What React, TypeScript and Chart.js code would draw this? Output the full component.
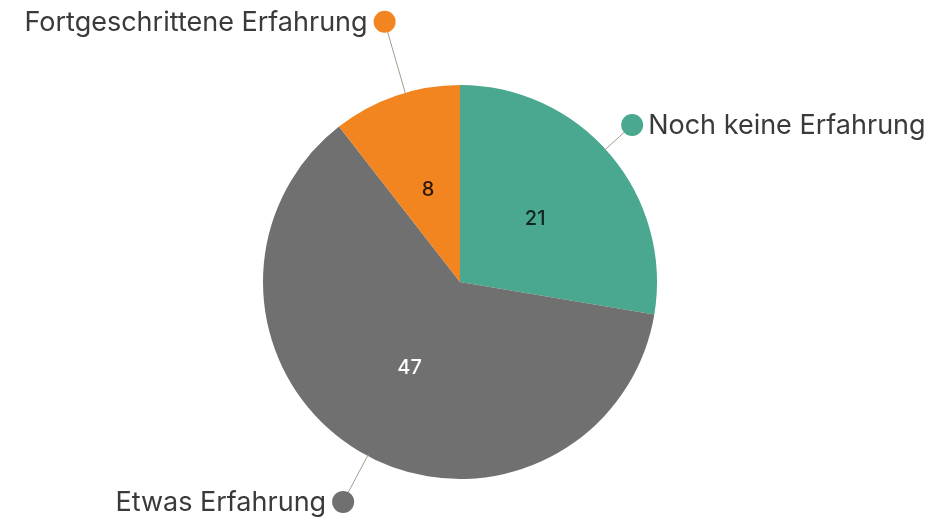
import React, { useEffect, useRef } from "react";
import { Chart, registerables } from "chart.js";

Chart.register(...registerables);

const categories = ["Noch keine Erfahrung", "Etwas Erfahrung", "Fortgeschrittene Erfahrung"];
const values = [21, 47, 8];
const colors = ["#49a88f", "#707070", "#f2851f"];
const valueLabelColors = ["#10261f", "#ffffff", "#2a1608"];
const leaderLengths = [36, 52, 74];
const leaderAngleShifts = [-2.1, -2.8, 2.8];
const labelSides = ["right", "left", "left"];

const calloutPlugin = {
  id: "callouts",
  afterDatasetsDraw(chart: any) {
    const ctx = chart.ctx;
    const meta = chart.getDatasetMeta(0);
    meta.data.forEach((arc: any, i: number) => {
      const { x, y, startAngle, endAngle, outerRadius } = arc.getProps(
        ["x", "y", "startAngle", "endAngle", "outerRadius"],
        true
      );
      const mid = (startAngle + endAngle) / 2 + (leaderAngleShifts[i] * Math.PI) / 180;
      const cx = Math.cos(mid);
      const cy = Math.sin(mid);
      const ex = x + cx * (outerRadius - 2);
      const ey = y + cy * (outerRadius - 2);
      const dr = outerRadius + leaderLengths[i];
      const dx = x + cx * dr;
      const dy = y + cy * dr;
      ctx.save();
      ctx.strokeStyle = "#a89a8c";
      ctx.lineWidth = 1;
      ctx.beginPath();
      ctx.moveTo(ex, ey);
      ctx.lineTo(dx, dy);
      ctx.stroke();
      ctx.fillStyle = colors[i];
      ctx.beginPath();
      ctx.arc(dx, dy, 11, 0, Math.PI * 2);
      ctx.fill();
      ctx.fillStyle = "#3a3a3a";
      ctx.font = "400 27px Inter";
      ctx.textBaseline = "middle";
      if (labelSides[i] === "right") {
        ctx.textAlign = "left";
        ctx.fillText(categories[i], dx + 16, dy + 1);
      } else {
        ctx.textAlign = "right";
        ctx.fillText(categories[i], dx - 17, dy + 1);
      }
      const tp = arc.tooltipPosition(true);
      ctx.fillStyle = valueLabelColors[i];
      ctx.font = "500 20px Inter";
      ctx.textAlign = "center";
      ctx.fillText(String(values[i]), tp.x, tp.y + 1);
      ctx.restore();
    });
  },
};

export default function App() {
  const ref = useRef<HTMLCanvasElement | null>(null);
  useEffect(() => {
    document.body.style.margin = "0";
    document.body.style.background = "#ffffff";
    const chart = new Chart(ref.current as HTMLCanvasElement, {
      type: "pie",
      data: {
        labels: categories,
        datasets: [
          {
            data: values,
            backgroundColor: colors,
            borderWidth: 0,
          },
        ],
      },
      options: {
        responsive: false,
        animation: false,
        layout: { padding: { left: 263, right: 275, top: 85, bottom: 42 } },
        plugins: {
          legend: { display: false },
          tooltip: { enabled: false },
        },
      },
      plugins: [calloutPlugin],
    });
    return () => chart.destroy();
  }, []);
  return (
    <div style={{ width: 932, height: 521, background: "#fff" }}>
      <canvas ref={ref} width={932} height={521} style={{ display: "block" }} />
    </div>
  );
}
